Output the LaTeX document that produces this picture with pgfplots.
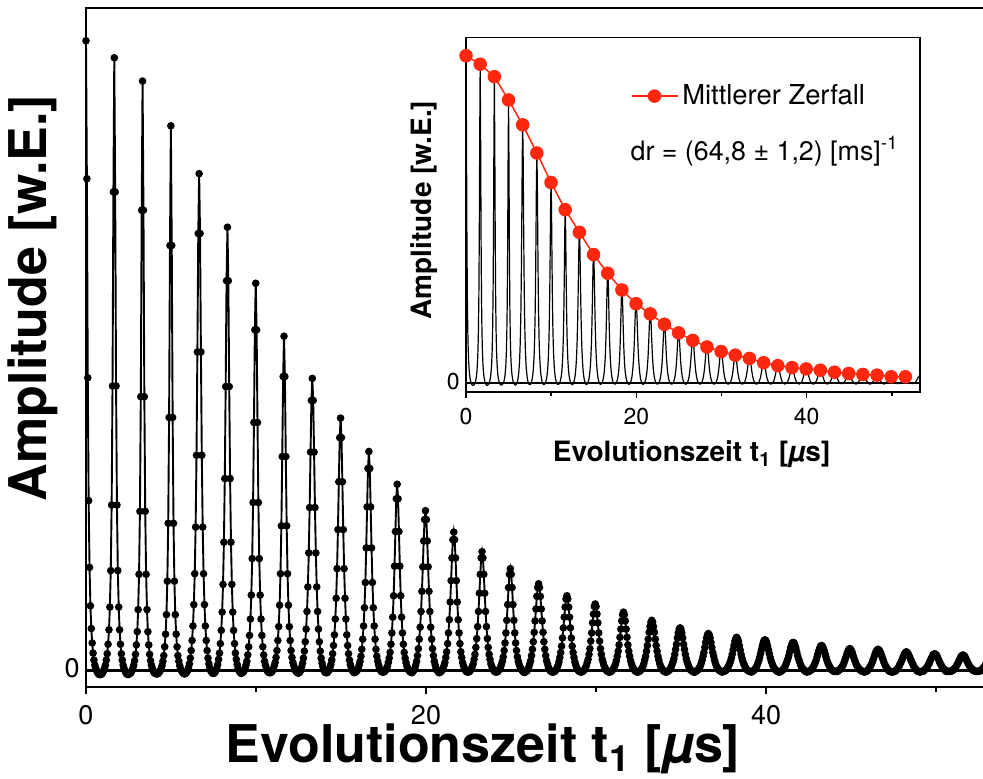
\documentclass[border=0pt]{standalone}
\usepackage{fontspec}
\setmainfont{TeX Gyre Heros}
\usepackage{pgfplots}
\usepackage{pgfplotstable}
\pgfplotsset{compat=1.18}
\definecolor{decayred}{RGB}{255,40,15}

% echo signal: amplitude versus evolution time t1 (microseconds)
\pgfplotstableread{
t amp
0.000 1.000
0.052 0.781
0.104 0.465
0.156 0.270
0.208 0.164
0.260 0.103
0.312 0.067
0.364 0.044
0.416 0.028
0.468 0.017
0.520 0.009
0.572 0.004
0.624 0.000
0.676 -0.003
0.728 -0.005
0.780 -0.006
0.832 -0.006
0.884 -0.006
0.936 -0.005
0.988 -0.003
1.040 0.000
1.092 0.004
1.144 0.009
1.196 0.017
1.248 0.027
1.300 0.042
1.352 0.065
1.404 0.101
1.456 0.159
1.508 0.263
1.560 0.452
1.612 0.760
1.664 0.973
1.716 0.760
1.768 0.452
1.820 0.263
1.872 0.159
1.924 0.101
1.976 0.065
2.028 0.042
2.080 0.027
2.132 0.017
2.184 0.009
2.236 0.004
2.288 0.000
2.340 -0.003
2.392 -0.005
2.444 -0.006
2.496 -0.006
2.548 -0.005
2.600 -0.004
2.652 -0.003
2.704 0.000
2.756 0.004
2.808 0.009
2.860 0.016
2.912 0.026
2.964 0.041
3.016 0.062
3.068 0.097
3.120 0.153
3.172 0.253
3.224 0.435
3.276 0.731
3.328 0.936
3.380 0.731
3.432 0.435
3.484 0.253
3.536 0.153
3.588 0.097
3.640 0.062
3.692 0.041
3.744 0.026
3.796 0.016
3.848 0.009
3.900 0.004
3.952 0.000
4.004 -0.003
4.056 -0.004
4.108 -0.005
4.160 -0.005
4.212 -0.005
4.264 -0.004
4.316 -0.002
4.368 0.000
4.420 0.003
4.472 0.008
4.524 0.015
4.576 0.024
4.628 0.038
4.680 0.058
4.732 0.089
4.784 0.142
4.836 0.234
4.888 0.402
4.940 0.675
4.992 0.865
5.044 0.675
5.096 0.402
5.148 0.234
5.200 0.142
5.252 0.089
5.304 0.058
5.356 0.038
5.408 0.024
5.460 0.015
5.512 0.008
5.564 0.003
5.616 0.000
5.668 -0.002
5.720 -0.004
5.772 -0.005
5.824 -0.005
5.876 -0.004
5.928 -0.002
5.980 0.000
6.032 0.005
6.084 0.011
6.136 0.020
6.188 0.032
6.240 0.048
6.292 0.071
6.344 0.105
6.396 0.154
6.448 0.228
6.500 0.342
6.552 0.506
6.604 0.694
6.656 0.789
6.708 0.694
6.760 0.506
6.812 0.342
6.864 0.228
6.916 0.154
6.968 0.105
7.020 0.071
7.072 0.048
7.124 0.032
7.176 0.020
7.228 0.011
7.280 0.005
7.332 0.000
7.384 -0.002
7.436 -0.004
7.488 -0.004
7.540 -0.004
7.592 -0.002
7.644 0.000
7.696 0.004
7.748 0.010
7.800 0.018
7.852 0.028
7.904 0.043
7.956 0.064
8.008 0.093
8.060 0.137
8.112 0.204
8.164 0.305
8.216 0.451
8.268 0.619
8.320 0.704
8.372 0.619
8.424 0.451
8.476 0.305
8.528 0.204
8.580 0.137
8.632 0.093
8.684 0.064
8.736 0.043
8.788 0.028
8.840 0.018
8.892 0.010
8.944 0.004
8.996 0.000
9.048 -0.002
9.100 -0.004
9.152 -0.004
9.204 -0.003
9.256 -0.002
9.308 0.000
9.360 0.004
9.412 0.009
9.464 0.015
9.516 0.025
9.568 0.038
9.620 0.056
9.672 0.082
9.724 0.120
9.776 0.178
9.828 0.267
9.880 0.394
9.932 0.541
9.984 0.615
10.036 0.541
10.088 0.394
10.140 0.267
10.192 0.178
10.244 0.120
10.296 0.082
10.348 0.056
10.400 0.038
10.452 0.025
10.504 0.015
10.556 0.009
10.608 0.004
10.660 0.000
10.712 -0.002
10.764 -0.003
10.816 -0.003
10.868 -0.003
10.920 -0.002
10.972 0.000
11.024 0.003
11.076 0.008
11.128 0.013
11.180 0.021
11.232 0.032
11.284 0.048
11.336 0.070
11.388 0.104
11.440 0.154
11.492 0.230
11.544 0.340
11.596 0.467
11.648 0.531
11.700 0.467
11.752 0.340
11.804 0.230
11.856 0.154
11.908 0.104
11.960 0.070
12.012 0.048
12.064 0.032
12.116 0.021
12.168 0.013
12.220 0.008
12.272 0.003
12.324 0.000
12.376 -0.002
12.428 -0.003
12.480 -0.004
12.532 -0.003
12.584 -0.002
12.636 0.001
12.688 0.006
12.740 0.012
12.792 0.020
12.844 0.031
12.896 0.046
12.948 0.066
13.000 0.094
13.052 0.133
13.104 0.187
13.156 0.259
13.208 0.347
13.260 0.429
13.312 0.464
13.364 0.429
13.416 0.347
13.468 0.259
13.520 0.187
13.572 0.133
13.624 0.094
13.676 0.066
13.728 0.046
13.780 0.031
13.832 0.020
13.884 0.012
13.936 0.006
13.988 0.001
14.040 -0.002
14.092 -0.003
14.144 -0.003
14.196 -0.003
14.248 -0.001
14.300 0.001
14.352 0.005
14.404 0.010
14.456 0.017
14.508 0.027
14.560 0.040
14.612 0.057
14.664 0.082
14.716 0.115
14.768 0.162
14.820 0.224
14.872 0.300
14.924 0.370
14.976 0.401
15.028 0.370
15.080 0.300
15.132 0.224
15.184 0.162
15.236 0.115
15.288 0.082
15.340 0.057
15.392 0.040
15.444 0.027
15.496 0.017
15.548 0.010
15.600 0.005
15.652 0.001
15.704 -0.001
15.756 -0.003
15.808 -0.003
15.860 -0.002
15.912 -0.001
15.964 0.001
16.016 0.004
16.068 0.009
16.120 0.015
16.172 0.023
16.224 0.034
16.276 0.050
16.328 0.071
16.380 0.100
16.432 0.140
16.484 0.195
16.536 0.260
16.588 0.321
16.640 0.348
16.692 0.321
16.744 0.260
16.796 0.195
16.848 0.140
16.900 0.100
16.952 0.071
17.004 0.050
17.056 0.034
17.108 0.023
17.160 0.015
17.212 0.009
17.264 0.004
17.316 0.001
17.368 -0.001
17.420 -0.002
17.472 -0.002
17.524 -0.002
17.576 -0.001
17.628 0.001
17.680 0.004
17.732 0.007
17.784 0.013
17.836 0.020
17.888 0.029
17.940 0.042
17.992 0.060
18.044 0.085
18.096 0.119
18.148 0.166
18.200 0.221
18.252 0.273
18.304 0.296
18.356 0.273
18.408 0.221
18.460 0.166
18.512 0.119
18.564 0.085
18.616 0.060
18.668 0.042
18.720 0.029
18.772 0.020
18.824 0.013
18.876 0.007
18.928 0.004
18.980 0.001
19.032 -0.001
19.084 -0.002
19.136 -0.003
19.188 -0.003
19.240 -0.001
19.292 0.001
19.344 0.004
19.396 0.009
19.448 0.015
19.500 0.024
19.552 0.035
19.604 0.050
19.656 0.069
19.708 0.094
19.760 0.126
19.812 0.165
19.864 0.206
19.916 0.240
19.968 0.254
20.020 0.240
20.072 0.206
20.124 0.165
20.176 0.126
20.228 0.094
20.280 0.069
20.332 0.050
20.384 0.035
20.436 0.024
20.488 0.015
20.540 0.009
20.592 0.004
20.644 0.001
20.696 -0.001
20.748 -0.003
20.800 -0.003
20.852 -0.002
20.904 -0.001
20.956 0.001
21.008 0.004
21.060 0.008
21.112 0.013
21.164 0.021
21.216 0.030
21.268 0.043
21.320 0.060
21.372 0.081
21.424 0.109
21.476 0.143
21.528 0.179
21.580 0.208
21.632 0.220
21.684 0.208
21.736 0.179
21.788 0.143
21.840 0.109
21.892 0.081
21.944 0.060
21.996 0.043
22.048 0.030
22.100 0.021
22.152 0.013
22.204 0.008
22.256 0.004
22.308 0.001
22.360 -0.001
22.412 -0.002
22.464 -0.002
22.516 -0.002
22.568 -0.001
22.620 0.001
22.672 0.003
22.724 0.007
22.776 0.011
22.828 0.018
22.880 0.026
22.932 0.037
22.984 0.051
23.036 0.070
23.088 0.094
23.140 0.123
23.192 0.153
23.244 0.179
23.296 0.189
23.348 0.179
23.400 0.153
23.452 0.123
23.504 0.094
23.556 0.070
23.608 0.051
23.660 0.037
23.712 0.026
23.764 0.018
23.816 0.011
23.868 0.007
23.920 0.003
23.972 0.001
24.024 -0.001
24.076 -0.002
24.128 -0.002
24.180 -0.002
24.232 -0.001
24.284 0.001
24.336 0.003
24.388 0.006
24.440 0.010
24.492 0.015
24.544 0.022
24.596 0.032
24.648 0.044
24.700 0.060
24.752 0.080
24.804 0.105
24.856 0.132
24.908 0.153
24.960 0.162
25.012 0.153
25.064 0.132
25.116 0.105
25.168 0.080
25.220 0.060
25.272 0.044
25.324 0.032
25.376 0.022
25.428 0.015
25.480 0.010
25.532 0.006
25.584 0.003
25.636 0.001
25.688 -0.001
25.740 -0.002
25.792 -0.003
25.844 -0.002
25.896 -0.001
25.948 0.000
26.000 0.003
26.052 0.006
26.104 0.011
26.156 0.016
26.208 0.024
26.260 0.034
26.312 0.046
26.364 0.061
26.416 0.079
26.468 0.098
26.520 0.118
26.572 0.132
26.624 0.138
26.676 0.132
26.728 0.118
26.780 0.098
26.832 0.079
26.884 0.061
26.936 0.046
26.988 0.034
27.040 0.024
27.092 0.016
27.144 0.011
27.196 0.006
27.248 0.003
27.300 0.000
27.352 -0.001
27.404 -0.002
27.456 -0.002
27.508 -0.002
27.560 -0.001
27.612 0.000
27.664 0.002
27.716 0.005
27.768 0.009
27.820 0.014
27.872 0.021
27.924 0.029
27.976 0.039
28.028 0.052
28.080 0.068
28.132 0.085
28.184 0.101
28.236 0.114
28.288 0.119
28.340 0.114
28.392 0.101
28.444 0.085
28.496 0.068
28.548 0.052
28.600 0.039
28.652 0.029
28.704 0.021
28.756 0.014
28.808 0.009
28.860 0.005
28.912 0.002
28.964 0.000
29.016 -0.001
29.068 -0.002
29.120 -0.002
29.172 -0.002
29.224 -0.001
29.276 0.000
29.328 0.002
29.380 0.005
29.432 0.008
29.484 0.013
29.536 0.018
29.588 0.026
29.640 0.035
29.692 0.047
29.744 0.060
29.796 0.076
29.848 0.090
29.900 0.102
29.952 0.106
30.004 0.102
30.056 0.090
30.108 0.076
30.160 0.060
30.212 0.047
30.264 0.035
30.316 0.026
30.368 0.018
30.420 0.013
30.472 0.008
30.524 0.005
30.576 0.002
30.628 0.000
30.680 -0.001
30.732 -0.002
30.784 -0.002
30.836 -0.002
30.888 -0.001
30.940 0.000
30.992 0.002
31.044 0.004
31.096 0.007
31.148 0.011
31.200 0.016
31.252 0.023
31.304 0.031
31.356 0.041
31.408 0.053
31.460 0.066
31.512 0.079
31.564 0.089
31.616 0.093
31.668 0.089
31.720 0.079
31.772 0.066
31.824 0.053
31.876 0.041
31.928 0.031
31.980 0.023
32.032 0.016
32.084 0.011
32.136 0.007
32.188 0.004
32.240 0.002
32.292 0.000
32.344 -0.001
32.396 -0.002
32.448 -0.002
32.500 -0.002
32.552 -0.001
32.604 0.000
32.656 0.002
32.708 0.004
32.760 0.007
32.812 0.011
32.864 0.017
32.916 0.023
32.968 0.031
33.020 0.040
33.072 0.050
33.124 0.061
33.176 0.070
33.228 0.077
33.280 0.080
33.332 0.077
33.384 0.070
33.436 0.061
33.488 0.050
33.540 0.040
33.592 0.031
33.644 0.023
33.696 0.017
33.748 0.011
33.800 0.007
33.852 0.004
33.904 0.002
33.956 0.000
34.008 -0.001
34.060 -0.002
34.112 -0.002
34.164 -0.002
34.216 -0.001
34.268 0.000
34.320 0.001
34.372 0.003
34.424 0.006
34.476 0.010
34.528 0.014
34.580 0.019
34.632 0.026
34.684 0.034
34.736 0.042
34.788 0.052
34.840 0.060
34.892 0.066
34.944 0.068
34.996 0.066
35.048 0.060
35.100 0.052
35.152 0.042
35.204 0.034
35.256 0.026
35.308 0.019
35.360 0.014
35.412 0.010
35.464 0.006
35.516 0.003
35.568 0.001
35.620 0.000
35.672 -0.001
35.724 -0.002
35.776 -0.002
35.828 -0.002
35.880 -0.001
35.932 0.000
35.984 0.001
36.036 0.003
36.088 0.005
36.140 0.008
36.192 0.012
36.244 0.017
36.296 0.023
36.348 0.029
36.400 0.037
36.452 0.045
36.504 0.052
36.556 0.057
36.608 0.059
36.660 0.057
36.712 0.052
36.764 0.045
36.816 0.037
36.868 0.029
36.920 0.023
36.972 0.017
37.024 0.012
37.076 0.008
37.128 0.005
37.180 0.003
37.232 0.001
37.284 0.000
37.336 -0.001
37.388 -0.002
37.440 -0.002
37.492 -0.001
37.544 -0.001
37.596 0.000
37.648 0.001
37.700 0.003
37.752 0.005
37.804 0.008
37.856 0.011
37.908 0.015
37.960 0.020
38.012 0.026
38.064 0.033
38.116 0.040
38.168 0.047
38.220 0.051
38.272 0.053
38.324 0.051
38.376 0.047
38.428 0.040
38.480 0.033
38.532 0.026
38.584 0.020
38.636 0.015
38.688 0.011
38.740 0.008
38.792 0.005
38.844 0.003
38.896 0.001
38.948 0.000
39.000 -0.001
39.052 -0.001
39.104 -0.002
39.156 -0.002
39.208 -0.001
39.260 0.000
39.312 0.001
39.364 0.003
39.416 0.005
39.468 0.008
39.520 0.012
39.572 0.016
39.624 0.021
39.676 0.027
39.728 0.033
39.780 0.039
39.832 0.044
39.884 0.048
39.936 0.049
39.988 0.048
40.040 0.044
40.092 0.039
40.144 0.033
40.196 0.027
40.248 0.021
40.300 0.016
40.352 0.012
40.404 0.008
40.456 0.005
40.508 0.003
40.560 0.001
40.612 0.000
40.664 -0.001
40.716 -0.002
40.768 -0.002
40.820 -0.002
40.872 -0.001
40.924 0.000
40.976 0.001
41.028 0.003
41.080 0.005
41.132 0.007
41.184 0.011
41.236 0.015
41.288 0.019
41.340 0.024
41.392 0.030
41.444 0.036
41.496 0.040
41.548 0.044
41.600 0.045
41.652 0.044
41.704 0.040
41.756 0.036
41.808 0.030
41.860 0.024
41.912 0.019
41.964 0.015
42.016 0.011
42.068 0.007
42.120 0.005
42.172 0.003
42.224 0.001
42.276 0.000
42.328 -0.001
42.380 -0.002
42.432 -0.002
42.484 -0.001
42.536 -0.001
42.588 0.000
42.640 0.001
42.692 0.002
42.744 0.004
42.796 0.007
42.848 0.010
42.900 0.013
42.952 0.017
43.004 0.022
43.056 0.027
43.108 0.032
43.160 0.036
43.212 0.039
43.264 0.040
43.316 0.039
43.368 0.036
43.420 0.032
43.472 0.027
43.524 0.022
43.576 0.017
43.628 0.013
43.680 0.010
43.732 0.007
43.784 0.004
43.836 0.002
43.888 0.001
43.940 0.000
43.992 -0.001
44.044 -0.001
44.096 -0.001
44.148 -0.001
44.200 -0.001
44.252 0.000
44.304 0.001
44.356 0.002
44.408 0.004
44.460 0.006
44.512 0.008
44.564 0.011
44.616 0.015
44.668 0.019
44.720 0.023
44.772 0.028
44.824 0.031
44.876 0.034
44.928 0.035
44.980 0.034
45.032 0.031
45.084 0.028
45.136 0.023
45.188 0.019
45.240 0.015
45.292 0.011
45.344 0.008
45.396 0.006
45.448 0.004
45.500 0.002
45.552 0.001
45.604 0.000
45.656 -0.001
45.708 -0.001
45.760 -0.002
45.812 -0.002
45.864 -0.001
45.916 -0.001
45.968 0.000
46.020 0.002
46.072 0.004
46.124 0.006
46.176 0.009
46.228 0.012
46.280 0.016
46.332 0.020
46.384 0.024
46.436 0.028
46.488 0.031
46.540 0.033
46.592 0.034
46.644 0.033
46.696 0.031
46.748 0.028
46.800 0.024
46.852 0.020
46.904 0.016
46.956 0.012
47.008 0.009
47.060 0.006
47.112 0.004
47.164 0.002
47.216 0.000
47.268 -0.001
47.320 -0.001
47.372 -0.002
47.424 -0.002
47.476 -0.002
47.528 -0.001
47.580 -0.001
47.632 0.000
47.684 0.002
47.736 0.003
47.788 0.005
47.840 0.008
47.892 0.011
47.944 0.014
47.996 0.017
48.048 0.021
48.100 0.024
48.152 0.027
48.204 0.029
48.256 0.030
48.308 0.029
48.360 0.027
48.412 0.024
48.464 0.021
48.516 0.017
48.568 0.014
48.620 0.011
48.672 0.008
48.724 0.005
48.776 0.003
48.828 0.002
48.880 0.000
48.932 -0.001
48.984 -0.001
49.036 -0.002
49.088 -0.002
49.140 -0.001
49.192 -0.001
49.244 -0.001
49.296 0.000
49.348 0.002
49.400 0.003
49.452 0.005
49.504 0.007
49.556 0.010
49.608 0.012
49.660 0.016
49.712 0.019
49.764 0.022
49.816 0.025
49.868 0.026
49.920 0.027
49.972 0.026
50.024 0.025
50.076 0.022
50.128 0.019
50.180 0.016
50.232 0.012
50.284 0.010
50.336 0.007
50.388 0.005
50.440 0.003
50.492 0.002
50.544 0.000
50.596 -0.001
50.648 -0.001
50.700 -0.001
50.752 -0.001
50.804 -0.001
50.856 -0.001
50.908 0.000
50.960 0.000
51.012 0.001
51.064 0.003
51.116 0.004
51.168 0.006
51.220 0.009
51.272 0.011
51.324 0.014
51.376 0.017
51.428 0.020
51.480 0.023
51.532 0.024
51.584 0.025
51.636 0.024
51.688 0.023
51.740 0.020
51.792 0.017
51.844 0.014
51.896 0.011
51.948 0.009
52.000 0.006
52.052 0.004
52.104 0.003
52.156 0.001
52.208 0.000
52.260 0.000
52.312 -0.001
52.364 -0.001
52.416 -0.001
52.468 -0.001
52.520 -0.001
52.572 0.000
52.624 0.000
52.676 0.001
52.728 0.003
52.780 0.004
52.832 0.006
52.884 0.008
52.936 0.011
52.988 0.013
53.040 0.016
53.092 0.019
53.144 0.021
53.196 0.022
53.248 0.023
53.300 0.022
}\signal

% mean decay of the echo maxima
\pgfplotstableread{
t amp
0.000 1.000
1.664 0.974
3.328 0.936
4.992 0.865
6.656 0.789
8.320 0.703
9.984 0.613
11.648 0.530
13.312 0.461
14.976 0.393
16.640 0.336
18.304 0.285
19.968 0.243
21.632 0.212
23.296 0.180
24.960 0.154
26.624 0.131
28.288 0.111
29.952 0.097
31.616 0.086
33.280 0.076
34.944 0.063
36.608 0.054
38.272 0.048
39.936 0.044
41.600 0.040
43.264 0.034
44.928 0.030
46.592 0.027
48.256 0.025
49.920 0.020
51.584 0.020
}\decay

\newcommand\biglabel{\fontsize{26}{30}\selectfont\bfseries}
\newcommand\smalllabel{\fontsize{14}{16}\selectfont\bfseries}
\newcommand\maintickfont{\fontsize{13.5}{15}\selectfont}
\newcommand\insettickfont{\fontsize{11.5}{13}\selectfont}

\begin{document}
\begin{tikzpicture}
% main panel
\begin{axis}[
  at={(0pt,0pt)}, anchor=south west,
  scale only axis, width=453.05pt, height=339.35pt,
  xmin=0, xmax=53.3, ymin=-0.0254, ymax=1.052,
  clip=false,
  axis line style={line width=0.8pt},
  xtick={0,20,40}, minor xtick={10,30,50}, ytick={0},
  xticklabels={}, yticklabels={},
  xtick pos=left, ytick pos=left, tick align=outside,
  major tick length=3.5pt, minor tick length=2.5pt,
  tick style={black, line width=0.8pt},
  ytick style={draw=none},
]
\addplot[black, line width=1.3pt, forget plot] coordinates {(0,0) (53.3,0)};
\addplot[black, line width=0.95pt, mark=*, mark size=1.4pt] table[x=t, y=amp] {\signal};
% tick labels
\node[anchor=north, inner sep=0pt, font=\maintickfont, yshift=-9pt] at (axis cs:0,-0.0254) {0};
\node[anchor=north, inner sep=0pt, font=\maintickfont, yshift=-9pt] at (axis cs:20,-0.0254) {20};
\node[anchor=north, inner sep=0pt, font=\maintickfont, yshift=-9pt] at (axis cs:40,-0.0254) {40};
\node[anchor=east, inner sep=0pt, font=\maintickfont, xshift=-3pt] at (axis cs:0,0.004) {0};
% axis titles
\node[anchor=base, font=\biglabel] at (axis description cs:0.4382,-0.1120) {Evolutionszeit t\textsubscript{1} [\textit{µ}s]};
\node[anchor=base, rotate=90, font=\biglabel] at (axis description cs:-0.0440,0.5727) {Amplitude [w.E.]};
\end{axis}

% inset
\begin{axis}[
  at={(190pt,147.5pt)}, anchor=south west,
  scale only axis, width=227pt, height=177pt,
  xmin=0, xmax=53.3, ymin=-0.0256, ymax=1.055,
  clip=false,
  axis background/.style={fill=white},
  axis line style={line width=0.8pt},
  xtick={0,20,40}, minor xtick={10,30,50}, ytick={0},
  xticklabels={}, yticklabels={},
  xtick pos=left, ytick pos=left, tick align=outside,
  major tick length=3pt, minor tick length=2pt,
  tick style={black, line width=0.7pt},
  ytick style={draw=none},
  legend style={at={(axis description cs:0.362,0.835)}, anchor=west,
    draw=none, fill=none, inner sep=0pt,
    font=\fontsize{13.7}{16}\selectfont},
  legend image code/.code={\draw[mark repeat=2, mark phase=2, #1]
    plot coordinates {(0pt,0pt) (11.5pt,0pt) (23pt,0pt)};},
]
\addplot[black, line width=0.9pt, forget plot] coordinates {(0,0) (53.3,0)};
\addplot[black, line width=0.6pt, forget plot] table[x=t, y=amp] {\signal};
\addplot[decayred, line width=0.75pt, mark=*, mark size=3pt] table[x=t, y=amp] {\decay};
\addlegendentry{Mittlerer Zerfall}
% tick labels
\node[anchor=north, inner sep=0pt, font=\insettickfont, yshift=-8.2pt] at (axis cs:0,-0.0256) {0};
\node[anchor=north, inner sep=0pt, font=\insettickfont, yshift=-8.2pt] at (axis cs:20,-0.0256) {20};
\node[anchor=north, inner sep=0pt, font=\insettickfont, yshift=-8.2pt] at (axis cs:40,-0.0256) {40};
\node[anchor=east, inner sep=0pt, font=\insettickfont, xshift=-3pt] at (axis cs:0,0.006) {0};
% annotation and axis titles
\node[anchor=west, font=\fontsize{13.4}{16}\selectfont] at (axis description cs:0.347,0.68) {dr = (64,8 ± 1,2) [ms]\textsuperscript{-1}};
\node[anchor=base, font=\smalllabel] at (axis description cs:0.497,-0.198) {Evolutionszeit t\textsubscript{1} [\textit{µ}s]};
\node[anchor=base, rotate=90, font=\smalllabel] at (axis description cs:-0.075,0.513) {Amplitude [w.E.]};
\end{axis}

\pgfresetboundingbox
\useasboundingbox (-43pt,-45.65pt) rectangle (448.5pt,343.35pt);
\end{tikzpicture}
\end{document}
